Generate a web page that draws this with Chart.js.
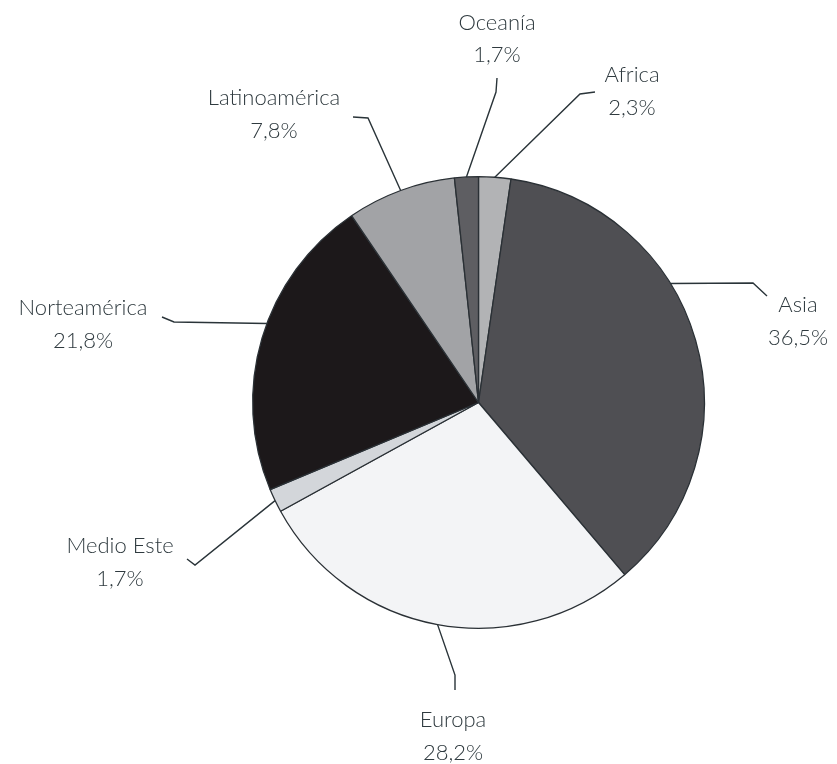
<!DOCTYPE html>
<html>
<head>
<meta charset="utf-8">
<script src="https://cdn.jsdelivr.net/npm/chart.js@4"></script>
<style>
  html, body { margin: 0; padding: 0; background: #ffffff; }
  #wrap { width: 837px; height: 764px; position: relative; }
</style>
</head>
<body>
<div id="wrap"><canvas id="c" width="837" height="764"></canvas></div>
<script>
// ---- data (clockwise from 12 o'clock) ----
const categories = ['Africa', 'Asia', 'Europa', 'Medio Este', 'Norteamérica', 'Latinoamérica', 'Oceanía'];
const shares = [2.3, 36.5, 28.2, 1.7, 21.8, 7.8, 1.7];

// ---- styling ----
const sliceColors = ['#b2b3b5', '#4f4f53', '#f3f4f6', '#d3d6da', '#1c181a', '#a2a3a6', '#5e5e62'];
const textColor = '#2f3a3f';
const lineColor = '#2a3439';

// label layout: anchor position within slice (0..1), leader elbow & end, text centre & baselines
const labelLayout = [
  { t: 0.5,  elbow: [580, 94],  end: [595, 92],  x: 632, y1: 82,  y2: 115 },
  { t: 0.38, elbow: [753, 283], end: [767, 296], x: 798, y1: 312, y2: 345 },
  { t: 0.5,  elbow: [455, 675], end: [455, 690], x: 453, y1: 727, y2: 760 },
  { t: 0.5,  elbow: [195, 565], end: [187, 559], x: 120, y1: 553, y2: 586 },
  { t: 0.55, elbow: [174, 322], end: [162, 317], x: 83,  y1: 315, y2: 348 },
  { t: 0.5,  elbow: [368, 118], end: [353, 117], x: 274, y1: 105, y2: 138 },
  { t: 0.5,  elbow: [496, 92],  end: [497, 78],  x: 497, y1: 30,  y2: 62 }
];

const labelPlugin = {
  id: 'leaderLabels',
  afterDatasetsDraw(chart) {
    const ctx = chart.ctx;
    const meta = chart.getDatasetMeta(0);
    ctx.save();
    meta.data.forEach((arc, i) => {
      const p = arc.getProps(['x', 'y', 'startAngle', 'endAngle', 'outerRadius'], true);
      const L = labelLayout[i];
      const a = p.startAngle + L.t * (p.endAngle - p.startAngle);
      const ax = p.x + Math.cos(a) * p.outerRadius;
      const ay = p.y + Math.sin(a) * p.outerRadius;
      ctx.strokeStyle = lineColor;
      ctx.lineWidth = 1.4;
      ctx.beginPath();
      ctx.moveTo(ax, ay);
      ctx.lineTo(L.elbow[0], L.elbow[1]);
      ctx.lineTo(L.end[0], L.end[1]);
      ctx.stroke();

      ctx.fillStyle = textColor;
      ctx.textAlign = 'center';
      ctx.textBaseline = 'alphabetic';
      ctx.font = '300 22px Lato, "Open Sans", sans-serif';
      ctx.fillText(categories[i], L.x, L.y1);
      const v = chart.data.datasets[0].data[i];
      ctx.fillText(v.toFixed(1).replace('.', ',') + '%', L.x, L.y2);
    });
    ctx.restore();
  }
};

new Chart(document.getElementById('c'), {
  type: 'pie',
  data: {
    labels: categories,
    datasets: [{
      data: shares,
      backgroundColor: sliceColors,
      borderColor: '#2a3035',
      borderWidth: 1.3,
      borderAlign: 'center'
    }]
  },
  options: {
    responsive: false,
    animation: false,
    layout: { padding: { left: 252, top: 176, right: 132, bottom: 135 } },
    plugins: { legend: { display: false }, tooltip: { enabled: false } }
  },
  plugins: [labelPlugin]
});
</script>
</body>
</html>
